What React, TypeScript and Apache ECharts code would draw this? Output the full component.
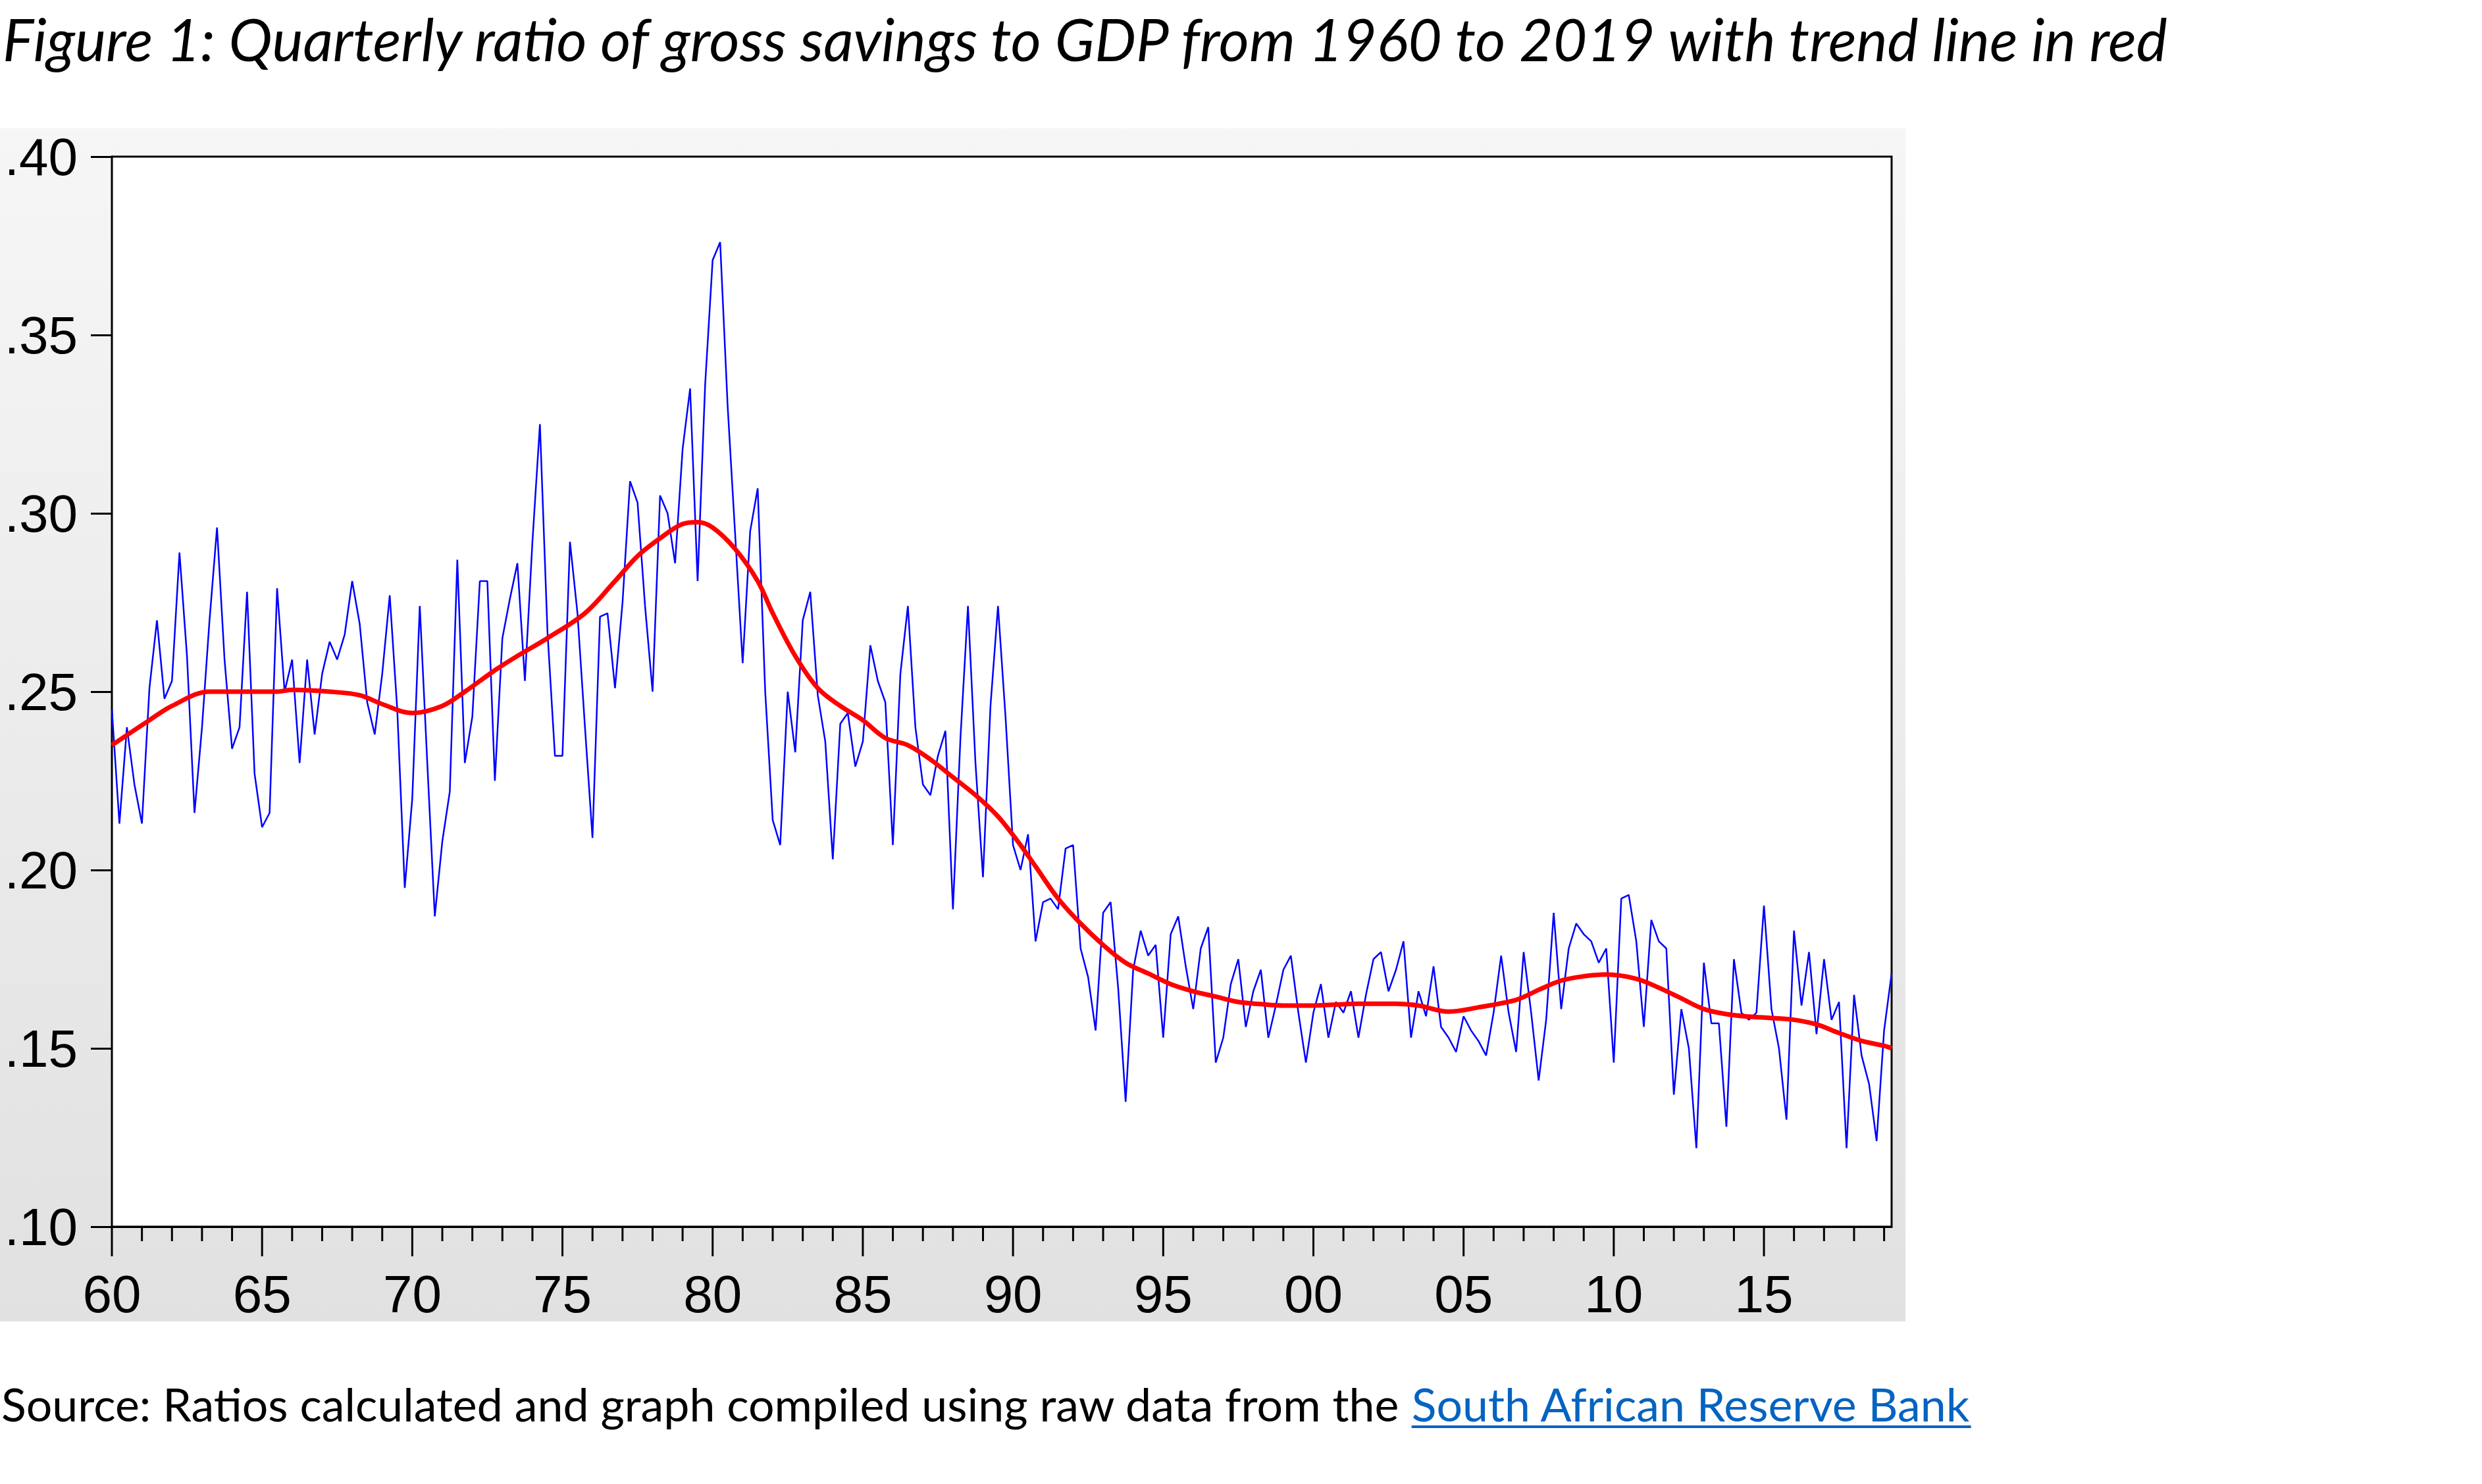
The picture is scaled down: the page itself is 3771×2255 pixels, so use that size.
import React, { useEffect, useRef } from "react";
import * as echarts from "echarts";

const W = 3771;
const H = 2255;

// Quarterly ratio of gross savings to GDP, 1960Q1 ... 2019Q2
const s1960s = [
  0.245, 0.213, 0.24, 0.224, 0.213, 0.251, 0.27, 0.248, 0.253, 0.289,
  0.26, 0.216, 0.24, 0.27, 0.296, 0.259, 0.234, 0.24, 0.278, 0.227,
  0.212, 0.216, 0.279, 0.25, 0.259, 0.23, 0.259, 0.238, 0.255, 0.264,
  0.259, 0.266, 0.281, 0.269, 0.247, 0.238, 0.255, 0.277, 0.245, 0.195,
];
const s1970s = [
  0.22, 0.274, 0.23, 0.187, 0.208, 0.222, 0.287, 0.23, 0.243, 0.281,
  0.281, 0.225, 0.265, 0.276, 0.286, 0.253, 0.292, 0.325, 0.267, 0.232,
  0.232, 0.292, 0.272, 0.24, 0.209, 0.271, 0.272, 0.251, 0.275, 0.309,
  0.303, 0.274, 0.25, 0.305, 0.3, 0.286, 0.318, 0.335, 0.281, 0.336,
];
const s1980s = [
  0.371, 0.376, 0.33, 0.294, 0.258, 0.295, 0.307, 0.25, 0.214, 0.207,
  0.25, 0.233, 0.27, 0.278, 0.249, 0.236, 0.203, 0.241, 0.244, 0.229,
  0.236, 0.263, 0.253, 0.247, 0.207, 0.255, 0.274, 0.24, 0.224, 0.221,
  0.232, 0.239, 0.189, 0.237, 0.274, 0.23, 0.198, 0.246, 0.274, 0.243,
];
const s1990s = [
  0.207, 0.2, 0.21, 0.18, 0.191, 0.192, 0.189, 0.206, 0.207, 0.178,
  0.17, 0.155, 0.188, 0.191, 0.167, 0.135, 0.172, 0.183, 0.176, 0.179,
  0.153, 0.182, 0.187, 0.173, 0.161, 0.178, 0.184, 0.146, 0.153, 0.168,
  0.175, 0.156, 0.166, 0.172, 0.153, 0.162, 0.172, 0.176, 0.16, 0.146,
];
const s2000s = [
  0.16, 0.168, 0.153, 0.163, 0.16, 0.166, 0.153, 0.165, 0.175, 0.177,
  0.166, 0.172, 0.18, 0.153, 0.166, 0.159, 0.173, 0.156, 0.153, 0.149,
  0.159, 0.155, 0.152, 0.148, 0.16, 0.176, 0.16, 0.149, 0.177, 0.16,
  0.141, 0.158, 0.188, 0.161, 0.178, 0.185, 0.182, 0.18, 0.174, 0.178,
];
const s2010s = [
  0.146, 0.192, 0.193, 0.18, 0.156, 0.186, 0.18, 0.178, 0.137, 0.161,
  0.15, 0.122, 0.174, 0.157, 0.157, 0.128, 0.175, 0.16, 0.158, 0.16,
  0.19, 0.161, 0.15, 0.13, 0.183, 0.162, 0.177, 0.154, 0.175, 0.158,
  0.163, 0.122, 0.165, 0.148, 0.14, 0.124, 0.155, 0.171,
];

// Trend line (red), read at these dates
const trendYears = [
  1960, 1961.25, 1962, 1963.25, 1965.5, 1966, 1967.25, 1968.25, 1969, 1970,
  1971, 1971.75, 1972.75, 1973.5, 1974.5, 1975.75, 1976.75, 1977.5, 1978.25, 1979,
  1979.5, 1980, 1980.75, 1981.5, 1982, 1982.75, 1983.5, 1984.25, 1985, 1985.75,
  1986.5, 1987.25, 1988, 1988.75, 1989.5, 1990.25, 1990.75, 1991.5, 1992.25, 1993,
  1993.75, 1994.5, 1995.25, 1996, 1996.75, 1997.5, 1998.25, 1999, 2000, 2001.5,
  2002.75, 2003.5, 2004.5, 2005.5, 2006.75, 2007.5, 2008.25, 2009, 2009.75, 2010.75,
  2011.5, 2012.25, 2013, 2013.75, 2014.5, 2015.25, 2016, 2016.75, 2017.5, 2018.25,
  2019, 2019.25,
];
const trendValues = [
  0.235, 0.242, 0.246, 0.25, 0.25, 0.2505, 0.25, 0.249, 0.2465, 0.244,
  0.246, 0.25, 0.256, 0.26, 0.265, 0.272, 0.281, 0.288, 0.293, 0.297,
  0.2975, 0.296, 0.29, 0.281, 0.272, 0.26, 0.251, 0.246, 0.242, 0.237,
  0.235, 0.231, 0.226, 0.221, 0.215, 0.207, 0.201, 0.192, 0.185, 0.179,
  0.174, 0.171, 0.168, 0.166, 0.1645, 0.163, 0.1624, 0.162, 0.162, 0.1625,
  0.1625, 0.162, 0.1603, 0.1615, 0.1636, 0.1664, 0.169, 0.1702, 0.1707, 0.1695,
  0.167, 0.164, 0.161, 0.1596, 0.1589, 0.1585, 0.158, 0.1567, 0.1543, 0.1521,
  0.1507, 0.15,
];

const yTicks = { min: 0.1, max: 0.4, interval: 0.05 };
const xRange = { min: 1960, max: 2019.25, labelEvery: 5 };

const TITLE =
  "Figure 1: Quarterly ratio of gross savings to GDP from 1960 to 2019 with trend line in red";
const SOURCE_PREFIX =
  "Source: Ratios calculated and graph compiled using raw data from the ";
const SOURCE_LINK = "South African Reserve Bank";

function measure(text: string, font: string): number {
  const c = document.createElement("canvas");
  const ctx = c.getContext("2d")!;
  ctx.font = font;
  return ctx.measureText(text).width;
}

export default function App() {
  const ref = useRef<HTMLDivElement>(null);

  useEffect(() => {
    if (!ref.current) return;
    const chart = echarts.init(ref.current, null, {
      renderer: "svg",
      width: W,
      height: H,
    });

    const series = [...s1960s, ...s1970s, ...s1980s, ...s1990s, ...s2000s, ...s2010s];
    const lineData = series.map((v, i) => [1960 + i / 4, v]);
    const trendData = trendYears.map((y, k) => [y, trendValues[k]]);
    const tickYears: number[] = [];
    for (let y = 1960; y <= 2019; y++) tickYears.push(y);

    // fit fonts to reference widths
    const titleFamily = "Lato";
    let titleSize = 77;
    const tw = measure(TITLE, `italic ${titleSize}px ${titleFamily}`);
    titleSize = Math.max(60, Math.min(95, (titleSize * 3297) / tw));

    const srcFamily = "Lato";
    let srcSize = 70;
    const sw = measure(SOURCE_PREFIX + SOURCE_LINK, `${srcSize}px ${srcFamily}`);
    srcSize = Math.max(55, Math.min(90, (srcSize * 2993) / sw));
    const prefixW = measure(SOURCE_PREFIX, `${srcSize}px ${srcFamily}`);
    const linkW = measure(SOURCE_LINK, `${srcSize}px ${srcFamily}`);

    const axisFont = "'Liberation Sans', Arial, sans-serif";

    chart.setOption({
      animation: false,
      backgroundColor: "#ffffff",
      grid: {
        left: 170,
        top: 238,
        width: 2704,
        height: 1626,
        show: true,
        backgroundColor: "#ffffff",
        borderColor: "#000000",
        borderWidth: 3,
        z: 1,
      },
      xAxis: {
        type: "value",
        min: xRange.min,
        max: xRange.max,
        interval: xRange.labelEvery,
        axisLine: { show: true, onZero: false, lineStyle: { color: "#000", width: 3 } },
        axisTick: { show: false },
        splitLine: { show: false },
        axisLabel: {
          color: "#000",
          fontFamily: axisFont,
          fontSize: 80,
          margin: 62,
          formatter: (v: number) =>
            Math.abs(v % xRange.labelEvery) < 1e-6 ? String(v % 100).padStart(2, "0") : "",
        },
      },
      yAxis: {
        type: "value",
        min: yTicks.min,
        max: yTicks.max,
        interval: yTicks.interval,
        axisLine: { show: true, lineStyle: { color: "#000", width: 3 } },
        axisTick: { show: true, length: 32, lineStyle: { color: "#000", width: 3 } },
        splitLine: { show: true, lineStyle: { color: "#000", width: 3 } },
        axisLabel: {
          color: "#000",
          fontFamily: axisFont,
          fontSize: 80,
          margin: 52,
          formatter: (v: number) => v.toFixed(2).replace(/^0/, ""),
        },
      },
      graphic: [
        {
          type: "rect",
          z: -100,
          silent: true,
          shape: { x: 0, y: 195, width: 2895, height: 1813 },
          style: {
            fill: new echarts.graphic.LinearGradient(0, 0, 0, 1, [
              { offset: 0, color: "#f6f6f6" },
              { offset: 1, color: "#e1e1e1" },
            ]),
          },
        },
        {
          type: "text",
          x: 4,
          y: 58,
          silent: true,
          style: {
            text: TITLE,
            fontFamily: titleFamily,
            fontStyle: "italic",
            fontSize: titleSize,
            fill: "#000",
            verticalAlign: "middle",
          },
        },
        {
          type: "text",
          x: 2,
          y: 2133,
          silent: true,
          style: {
            text: SOURCE_PREFIX,
            fontFamily: srcFamily,
            fontSize: srcSize,
            fill: "#000",
            verticalAlign: "middle",
          },
        },
        {
          type: "text",
          x: 2 + prefixW,
          y: 2133,
          silent: true,
          style: {
            text: SOURCE_LINK,
            fontFamily: srcFamily,
            fontSize: srcSize,
            fill: "#0563c1",
            verticalAlign: "middle",
          },
        },
        {
          type: "line",
          silent: true,
          shape: { x1: 2 + prefixW, y1: 2168, x2: 2 + prefixW + linkW, y2: 2168 },
          style: { stroke: "#0563c1", lineWidth: 4 },
        },
      ],
      series: [
        {
          type: "custom",
          clip: false,
          silent: true,
          z: 5,
          data: tickYears.map((y) => [y, yTicks.min]),
          renderItem: (_p: any, api: any) => {
            const year = api.value(0);
            const pt = api.coord([year, yTicks.min]);
            const len = year % 5 === 0 ? 45 : 22;
            return {
              type: "line",
              shape: { x1: pt[0], y1: pt[1], x2: pt[0], y2: pt[1] + len },
              style: { stroke: "#000", lineWidth: 3 },
            };
          },
        },
        {
          type: "line",
          data: lineData,
          showSymbol: false,
          symbol: "none",
          z: 3,
          lineStyle: { color: "#0000ff", width: 2.5 },
        },
        {
          type: "line",
          data: trendData,
          showSymbol: false,
          symbol: "none",
          smooth: 0.35,
          z: 4,
          lineStyle: { color: "#ff0000", width: 7 },
        },
      ],
    });

    return () => chart.dispose();
  }, []);

  return (
    <div
      ref={ref}
      style={{ position: "absolute", left: 0, top: 0, width: W, height: H, background: "#fff" }}
    />
  );
}
